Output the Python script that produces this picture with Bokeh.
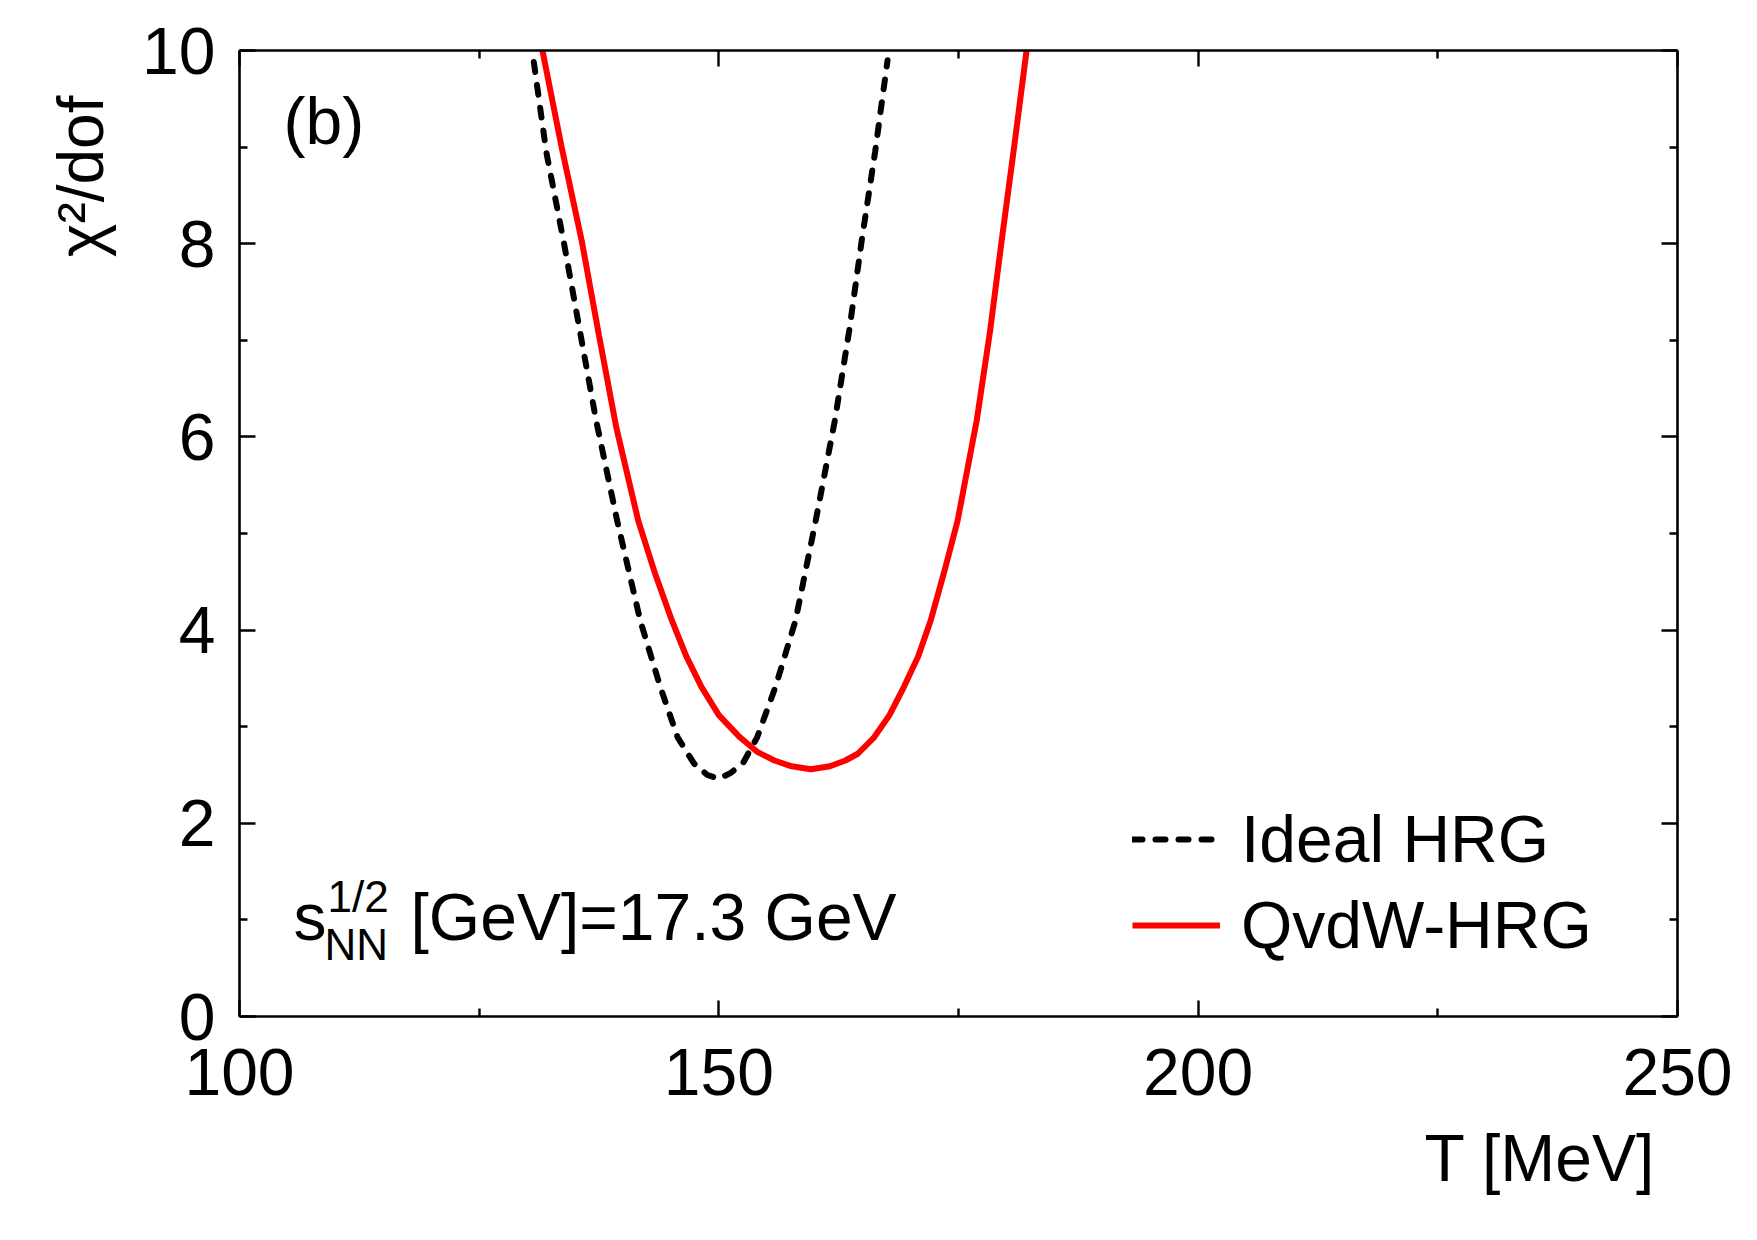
from bokeh.embed import file_html
from bokeh.models import (FixedTicker, Label, Legend, LegendItem, LinearAxis,
                          Range1d, Title)
from bokeh.plotting import figure
from bokeh.resources import INLINE

# chi^2/dof of the thermal fit versus temperature, sqrt(s_NN) = 17.3 GeV
t_ideal = [130.7, 132.0, 133.8, 135.5, 137.2, 139.4, 141.8, 143.9, 145.7,
           147.4, 148.8, 150.0, 151.2, 152.5, 154.0, 155.9, 158.0, 160.1,
           162.1, 163.6, 164.9, 166.3, 167.6]
chi2_ideal = [9.88, 8.95, 8.03, 7.10, 6.17, 5.13, 4.10, 3.41, 2.89,
              2.62, 2.50, 2.46, 2.52, 2.62, 2.89, 3.41, 4.10, 5.13,
              6.17, 7.10, 8.03, 8.95, 9.90]

t_qvdw = [131.6, 133.6, 135.7, 137.5, 139.3, 141.6, 143.3, 145.1, 146.6,
          148.2, 150.0, 152.2, 154.0, 155.8, 157.6, 159.6, 161.6, 163.2,
          164.5, 166.2, 167.8, 169.3, 170.8, 172.1, 173.5, 174.9, 176.9,
          178.3, 179.5, 180.8, 182.1]
chi2_qvdw = [10.0, 9.0, 8.03, 7.05, 6.10, 5.13, 4.60, 4.10, 3.73,
             3.41, 3.12, 2.89, 2.74, 2.65, 2.59, 2.56, 2.59, 2.65,
             2.72, 2.89, 3.12, 3.41, 3.73, 4.10, 4.60, 5.13, 6.17,
             7.10, 8.03, 9.0, 10.0]

x_major = [100, 150, 200, 250]
x_minor = [125, 175, 225]
y_major = [0, 2, 4, 6, 8, 10]
y_minor = [1, 3, 5, 7, 9]

legend_ideal = "Ideal HRG"
legend_qvdw = "QvdW-HRG"
panel_tag = "(b)"
energy_text = "[GeV]=17.3 GeV"
x_title = "T [MeV]"
y_title = "\u03c7\u00b2/dof"

W, H = 1757, 1240
FL, FR, FT, FB = 239, 1677, 50, 1016
X0, X1, Y0, Y1 = 100, 250, 0, 10

SANS = "Liberation Sans"
FS = 66


def px2x(px):
    return X0 + (px - FL) * (X1 - X0) / (FR - FL)


def py2y(py):
    return Y0 + (FB - py) * (Y1 - Y0) / (FB - FT)


def text_label(px, baseline_py, text, size):
    # bokeh's alphabetic anchor sits ~0.375 em above the drawn baseline
    return Label(x=px2x(px), y=py2y(baseline_py - 0.375 * size), text=text,
                 text_font=SANS, text_font_size=f"{size}px",
                 text_color="black", text_baseline="alphabetic",
                 text_align="left")


p = figure(width=W, height=H, output_backend="svg", toolbar_location=None,
           x_range=Range1d(X0, X1), y_range=Range1d(Y0, Y1),
           min_border_left=FL, min_border_right=W - FR,
           min_border_top=FT, min_border_bottom=H - FB)
p.outline_line_color = None
p.grid.visible = False
p.background_fill_color = "white"
p.border_fill_color = "white"

xt = FixedTicker(ticks=x_major, minor_ticks=x_minor)
yt = FixedTicker(ticks=y_major, minor_ticks=y_minor)


def style_axis(ax, ticker, labels):
    ax.ticker = ticker
    ax.axis_line_width = 2.6
    ax.axis_line_color = "black"
    ax.major_tick_in = 16
    ax.major_tick_out = 0
    ax.minor_tick_in = 8
    ax.minor_tick_out = 0
    ax.major_tick_line_width = 2.4
    ax.minor_tick_line_width = 2.4
    ax.major_tick_line_color = "black"
    ax.minor_tick_line_color = "black"
    if labels:
        ax.major_label_text_font = SANS
        ax.major_label_text_font_size = f"{FS}px"
        ax.major_label_text_color = "black"
    else:
        ax.major_label_text_color = None
        ax.major_label_text_font_size = "1px"
        ax.major_label_standoff = 0


style_axis(p.xaxis[0], xt, True)
style_axis(p.yaxis[0], yt, True)
p.xaxis[0].major_label_standoff = 32
p.yaxis[0].major_label_standoff = 24

top_ax = LinearAxis()
right_ax = LinearAxis()
style_axis(top_ax, xt, False)
style_axis(right_ax, yt, False)
p.add_layout(top_ax, "above")
p.add_layout(right_ax, "right")

# axis titles
p.add_layout(Title(text=x_title, align="right", offset=22, standoff=42,
                   text_font=SANS, text_font_size=f"{FS}px",
                   text_font_style="normal", text_color="black"), "below")
p.add_layout(Title(text=y_title, align="right", offset=45, standoff=45,
                   text_font=SANS, text_font_size="64px",
                   text_font_style="normal", text_color="black"), "left")

# curves
r_ideal = p.line(t_ideal, chi2_ideal, line_color="black", line_width=6,
                 line_dash="10 13", line_cap="round")
r_qvdw = p.line(t_qvdw, chi2_qvdw, line_color="#ff0000", line_width=6)

legend = Legend(items=[LegendItem(label=legend_ideal, renderers=[r_ideal]),
                       LegendItem(label=legend_qvdw, renderers=[r_qvdw])],
                location=(1132 - FL, FB - 965),
                glyph_width=88, glyph_height=80, label_height=80,
                label_standoff=21, spacing=6, padding=0, margin=0,
                label_text_font=SANS, label_text_font_size=f"{FS}px",
                label_text_color="black",
                border_line_color=None, background_fill_alpha=0)
p.add_layout(legend)

# panel tag
p.add_layout(text_label(283, 145, panel_tag, FS))

# collision energy annotation
p.add_layout(text_label(293, 941, "s", FS))
p.add_layout(text_label(327, 912, "1/2", 44))
p.add_layout(text_label(324, 960, "NN", 44))
p.add_layout(text_label(410, 941, energy_text, FS))

open("out.html", "w").write(file_html(p, INLINE))
